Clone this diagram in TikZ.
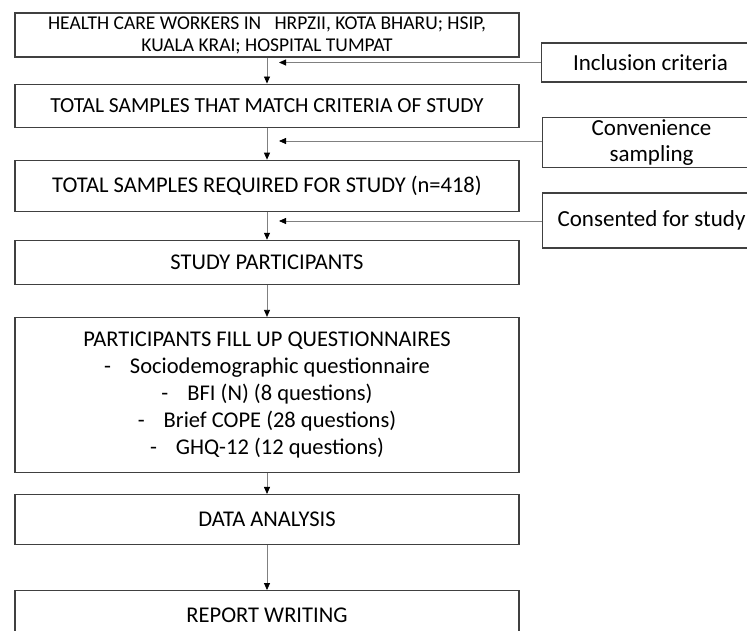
\documentclass[tikz,border=0pt]{standalone}
\usepackage{fontspec}
\setmainfont{Carlito}
\usetikzlibrary{arrows.meta}
\usetikzlibrary {positioning}
\tikzset{main node/.style={rectangle,draw=black!75,line width=1.1pt,minimum width=504pt,inner sep=2pt,align=center,font=\fontsize{22.5}{27}\selectfont}}
\tikzset{side node/.style={rectangle,draw=black!75,line width=1.1pt,minimum width=218pt,inner sep=2pt,anchor=west,align=center,font=\fontsize{23}{25.5}\selectfont}}
\tikzset{flow/.style={draw=black!50,line width=0.8pt,-{Triangle[length=7pt,width=6pt,color=black]}}}

\begin{document}
\begin{tikzpicture}[x=1pt,y=-1pt]
    	\useasboundingbox (0,0) rectangle (747,630);
    	\node[main node,minimum height=44pt,font=\fontsize{19.5}{22}\selectfont] (s_{1}) at (267,35) {HEALTH CARE WORKERS IN \ \ HRPZII, KOTA BHARU; HSIP,\\KUALA KRAI; HOSPITAL TUMPAT};
    	\node[main node,minimum height=43pt,font=\fontsize{21.5}{27}\selectfont] (s_{2}) [below = 26pt of s_{1}] {TOTAL SAMPLES THAT MATCH CRITERIA OF STUDY};
    	\node[main node,minimum height=51pt] (s_{3}) [below = 32pt of s_{2}] {TOTAL SAMPLES REQUIRED FOR STUDY (n=418)};
    	\node[main node,minimum height=44pt] (s_{4}) [below = 28pt of s_{3}] {STUDY PARTICIPANTS};
    	\node[main node,minimum height=155pt] (s_{5}) [below = 32pt of s_{4}] {PARTICIPANTS FILL UP QUESTIONNAIRES\\-\hspace{19pt}Sociodemographic questionnaire\\-\hspace{19pt}BFI (N) (8 questions)\\-\hspace{19pt}Brief COPE (28 questions)\\-\hspace{19pt}GHQ-12 (12 questions)};
    	\node[main node,minimum height=50pt] (s_{6}) [below = 21pt of s_{5}] {DATA ANALYSIS};
    	\node[main node,minimum height=50pt] (s_{7}) [below = 45pt of s_{6}] {REPORT WRITING};
    
    	\node[side node,minimum height=39pt] (c_{1}) at (541,62.5) {Inclusion criteria};
    	\node[side node,minimum height=47pt] (c_{2}) at (542,142.5) {Convenience\\sampling};
    	\node[side node,minimum height=55pt] (c_{3}) at (542,220.5) {Consented for study};
    	\coordinate (t_{1}) at (279,62.5);
    	\coordinate (t_{2}) at (279,141);
    	\coordinate (t_{3}) at (279,221);
    
    	\path[flow]
    	(s_{1}) edge (s_{2})
    	(s_{2}) edge (s_{3})
    	(s_{3}) edge (s_{4})
    	(s_{4}) edge (s_{5})
    	(s_{5}) edge (s_{6})
    	(s_{6}) edge (s_{7});
    	\draw[flow] (c_{1}.west) -- (t_{1});
    	\draw[flow] (c_{2}.west |- t_{2}) -- (t_{2});
    	\draw[flow] (c_{3}.west |- t_{3}) -- (t_{3});
\end{tikzpicture}
\end{document}
